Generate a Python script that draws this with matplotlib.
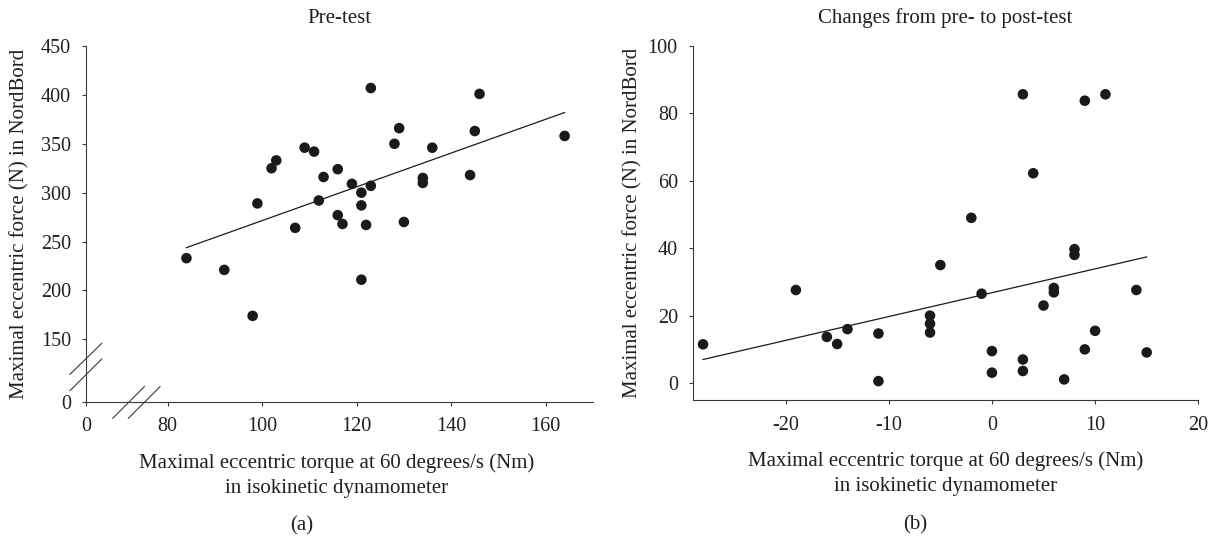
import matplotlib
matplotlib.use("Agg")
from matplotlib import pyplot as plt
import numpy as np

# panel (a): pre-test
pre_torque = [84, 92, 98, 99, 102, 103, 107, 109, 111, 112, 113, 116, 116, 117, 119, 121,
              121, 121, 122, 123, 123, 128, 129, 130, 134, 134, 136, 144, 145, 146, 164]
pre_force = [233, 221, 174, 289, 325, 333, 264, 346, 342, 292, 316, 324, 277, 268, 309, 300,
             287, 211, 267, 407, 307, 350, 366, 270, 315, 310, 346, 318, 363, 401, 358]
pre_fit = (98.6, 1.728)  # intercept, slope

# panel (b): changes pre -> post
chg_torque = [-28, -19, -16, -15, -14, -11, -11, -6, -6, -6, -5, -2, -1, 0, 0, 3,
              3, 3, 4, 5, 6, 6, 7, 8, 8, 9, 9, 10, 11, 14, 15]
chg_force = [11.5, 27.6, 13.7, 11.6, 16.0, 14.7, 0.6, 20.0, 17.6, 15.0, 35.0, 49.0, 26.5, 9.5, 3.1, 85.6,
             7.0, 3.6, 62.2, 23.0, 28.2, 26.9, 1.1, 39.7, 38.0, 83.7, 10.0, 15.5, 85.6, 27.6, 9.1]
chg_fit = (26.8, 0.707)

titles = ["Pre-test", "Changes from pre- to post-test"]
xlab = "Maximal eccentric torque at 60 degrees/s (Nm)\nin isokinetic dynamometer"
ylab = "Maximal eccentric force (N) in NordBord"
panel_tags = ["(a)", "(b)"]

plt.rcParams['font.family'] = ['Liberation Serif', 'DejaVu Serif']
txt = '#231f20'
fs = 15
tfs = 14.5


# broken axes for panel (a): compress 0-80 on x and 0-150 on y
def make_break(cut, room):
    def fwd(v):
        v = np.asarray(v, dtype=float)
        return np.where(v < cut, v * room / cut, v - cut + room)

    def inv(u):
        u = np.asarray(u, dtype=float)
        return np.where(u < room, u * cut / room, u + cut - room)
    return fwd, inv


fig = plt.figure(figsize=(12.16, 5.41), dpi=100)
W, H = 1216, 541


def add_ax(left, right, top, bottom):
    return fig.add_axes([left / W, 1 - bottom / H, (right - left) / W, (bottom - top) / H])


ax1 = add_ax(86, 593, 46, 401.7)
ax2 = add_ax(692.7, 1198.3, 45.7, 400)

ax1.set_xscale('function', functions=make_break(80, 17.25))
ax1.set_yscale('function', functions=make_break(150, 63.8))
ax1.set_xlim(0, 170)
ax1.set_ylim(0, 450)
ax1.set_xticks([0, 80, 100, 120, 140, 160])
ax1.set_yticks([0, 150, 200, 250, 300, 350, 400, 450])

ax2.set_xlim(-29, 20)
ax2.set_ylim(-5, 100)
ax2.set_xticks([-20, -10, 0, 10, 20])
ax2.set_yticks([0, 20, 40, 60, 80, 100])

for ax, xs, ys, fit in [(ax1, pre_torque, pre_force, pre_fit),
                        (ax2, chg_torque, chg_force, chg_fit)]:
    ax.scatter(xs, ys, s=58, color='#1a1a1a', edgecolors='none', zorder=3)
    lx = np.array([min(xs), max(xs)])
    ax.plot(lx, fit[0] + fit[1] * lx, color='#1a1a1a', lw=0.9)
    for s in ['top', 'right']:
        ax.spines[s].set_visible(False)
    for s in ['left', 'bottom']:
        ax.spines[s].set_color('#3a3a3a')
        ax.spines[s].set_linewidth(0.8)
    ax.tick_params(direction='out', length=3.2, width=0.8, color='#3a3a3a',
                   labelsize=tfs, labelcolor=txt)
    ax.tick_params(axis='x', pad=8)
    ax.tick_params(axis='y', pad=7.5)
    ax.set_xticklabels([str(t) for t in ax.get_xticks()])

ax2.set_xticklabels(['-20', '-10', '0', '10', '20'])

# break marks on panel (a)
brk = dict(transform=ax1.transAxes, clip_on=False, color='#3a3a3a', lw=0.8)
ax1.plot([-0.0316, 0.031], [0.077, 0.164], **brk)
ax1.plot([-0.0316, 0.031], [0.031, 0.120], **brk)
ax1.plot([0.0527, 0.115], [-0.0467, 0.0422], **brk)
ax1.plot([0.0834, 0.146], [-0.0467, 0.0422], **brk)

# text
fig.text(339.5 / W, 1 - 18.3 / H, titles[0], ha='center', va='center', fontsize=fs, color=txt)
fig.text(945.5 / W, 1 - 18.3 / H, titles[1], ha='center', va='center', fontsize=fs, color=txt)
fig.text(337 / W, 1 - 475.5 / H, xlab, ha='center', va='center', fontsize=fs, color=txt,
         linespacing=1.42)
fig.text(945.5 / W, 1 - 473.5 / H, xlab, ha='center', va='center', fontsize=fs, color=txt,
         linespacing=1.42)
fig.text(20 / W, 1 - 224 / H, ylab, ha='center', va='center', rotation=90, fontsize=fs, color=txt)
fig.text(633 / W, 1 - 223 / H, ylab, ha='center', va='center', rotation=90, fontsize=fs, color=txt)
fig.text(302 / W, 1 - 526 / H, panel_tags[0], ha='center', va='center', fontsize=fs, color=txt)
fig.text(915 / W, 1 - 525 / H, panel_tags[1], ha='center', va='center', fontsize=fs, color=txt)

fig.savefig('out.png', dpi=100)
